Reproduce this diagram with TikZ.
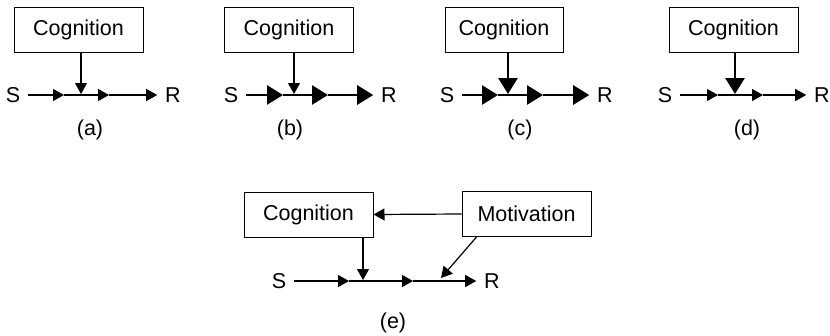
\documentclass[tikz,border=0pt]{standalone}
\usepackage{fontspec}
\setmainfont{Liberation Sans}
\usetikzlibrary{arrows.meta}
\tikzset{
  box/.style = {draw, line width=1pt, minimum width=129pt, minimum height=45pt, inner sep=0pt},
  term/.style = {inner sep=0pt, outer sep=8pt},
  slim/.style = {line width=1.2pt, -{Triangle[length=11pt,width=12pt]}},
  fat/.style = {line width=2.8pt, -{Triangle[length=16pt,width=19pt]}}
}

\begin{document}
\begin{tikzpicture}[x=1pt,y=-1pt,font=\fontsize{21.5}{26}\selectfont]
  \useasboundingbox (0,0) rectangle (830,335);
  % (a)
  \node[box] (acog) at (78.5,30) {Cognition};
  \node[term] (aS) at (13,95) {S};
  \node[term] (aR) at (173,95) {R};
  \coordinate (a1) at (64,95);
  \coordinate (a2) at (109,95);
  \coordinate (aj) at (81,94);
  \draw[slim] (aS) -- (a1);
  \draw[slim] (a1) -- (a2);
  \draw[slim] (a2) -- (aR);
  \draw[slim] (acog.south -| aj) -- (aj);
  \node (alab) at (90,130) {(a)};
  % (b)
  \node[box] (bcog) at (289,30) {Cognition};
  \node[term] (bS) at (231,95) {S};
  \node[term] (bR) at (389,95) {R};
  \coordinate (b1) at (283,95);
  \coordinate (b2) at (328,95);
  \coordinate (bj) at (294,94);
  \draw[fat] (bS) -- (b1);
  \draw[fat] (b1) -- (b2);
  \draw[fat] (b2) -- (bR);
  \draw[slim] (bcog.south -| bj) -- (bj);
  \node (blab) at (290,130) {(b)};
  % (c)
  \node[box,minimum width=118pt] (ccog) at (504,30) {Cognition};
  \node[term] (cS) at (447,95) {S};
  \node[term] (cR) at (605,95) {R};
  \coordinate (c1) at (498,95);
  \coordinate (c2) at (543,95);
  \coordinate (cj) at (508,94);
  \draw[fat] (cS) -- (c1);
  \draw[fat] (c1) -- (c2);
  \draw[fat] (c2) -- (cR);
  \draw[fat] (ccog.south -| cj) -- (cj);
  \node (clab) at (520,130) {(c)};
  % (d)
  \node[box] (dcog) at (733.5,30) {Cognition};
  \node[term] (dS) at (665,95) {S};
  \node[term] (dR) at (822,95) {R};
  \coordinate (d1) at (718,95);
  \coordinate (d2) at (763,95);
  \coordinate (dj) at (735,94);
  \draw[slim] (dS) -- (d1);
  \draw[slim] (d1) -- (d2);
  \draw[slim] (d2) -- (dR);
  \draw[fat] (dcog.south -| dj) -- (dj);
  \node (dlab) at (747,130) {(d)};
  % (e)
  \node[box] (ecog) at (308.5,214.5) {Cognition};
  \node[box] (emot) at (526.5,214) {Motivation};
  \node[term] (eS) at (279,281) {S};
  \node[term] (eR) at (492,281) {R};
  \coordinate (e1) at (349,281);
  \coordinate (e2) at (413,281);
  \coordinate (ej) at (363,280);
  \coordinate (em) at (441,278);
  \draw[slim] (eS) -- (e1);
  \draw[slim] (e1) -- (e2);
  \draw[slim] (e2) -- (eR);
  \draw[slim] (ecog.south -| ej) -- (ej);
  \draw[slim] (emot.west) -- (ecog.east);
  \draw[slim] ([xshift=15pt]emot.south west) -- (em);
  \node (elab) at (393,323) {(e)};
\end{tikzpicture}
\end{document}
